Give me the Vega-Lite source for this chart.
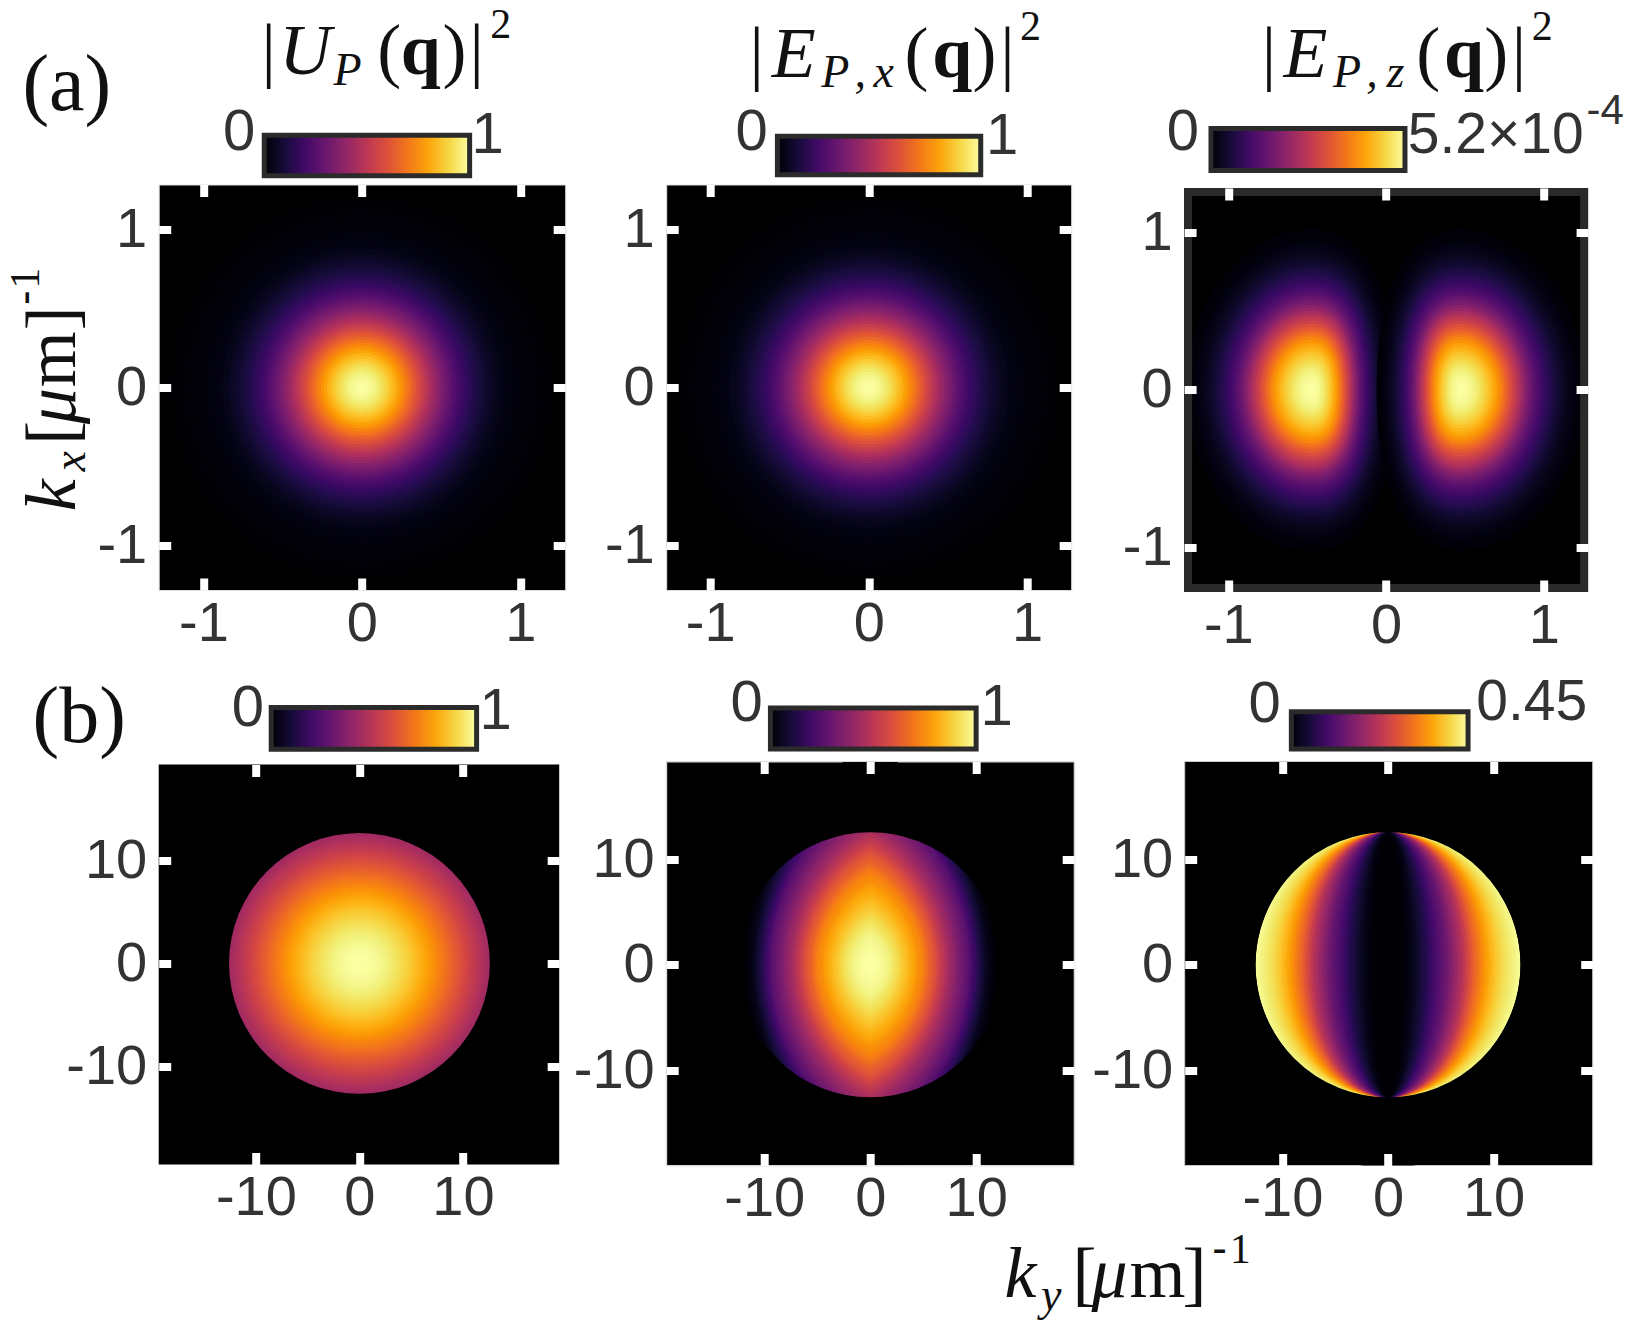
{"$schema":"https://vega.github.io/schema/vega-lite/v6.json","background":"#fff","padding":{"left":2.7,"top":2.5,"right":0,"bottom":0},
"config":{"view":{"fill":"#000","stroke":"#ddd","strokeWidth":1},"axis":{"domain":false,"grid":false,"tickColor":"#fff","tickWidth":8,"tickSize":-12,"labelFont":"Liberation Sans","labelFontSize":56,"labelColor":"#333"},"axisBottom":{"labelPadding":18},"axisLeft":{"labelPadding":24}},
"datasets":{
"gauss":[{"x":0,"y":0,"r":1.2,"v":0.003},{"x":0,"y":0,"r":1.16,"v":0.005},{"x":0,"y":0,"r":1.12,"v":0.007},{"x":0,"y":0,"r":1.08,"v":0.009},{"x":0,"y":0,"r":1.04,"v":0.013},{"x":0,"y":0,"r":1,"v":0.018},{"x":0,"y":0,"r":0.96,"v":0.025},{"x":0,"y":0,"r":0.92,"v":0.034},{"x":0,"y":0,"r":0.88,"v":0.045},{"x":0,"y":0,"r":0.84,"v":0.059},{"x":0,"y":0,"r":0.82,"v":0.068},{"x":0,"y":0,"r":0.8,"v":0.077},{"x":0,"y":0,"r":0.78,"v":0.088},{"x":0,"y":0,"r":0.76,"v":0.099},{"x":0,"y":0,"r":0.74,"v":0.112},{"x":0,"y":0,"r":0.72,"v":0.126},{"x":0,"y":0,"r":0.7,"v":0.141},{"x":0,"y":0,"r":0.68,"v":0.157},{"x":0,"y":0,"r":0.66,"v":0.175},{"x":0,"y":0,"r":0.64,"v":0.194},{"x":0,"y":0,"r":0.62,"v":0.215},{"x":0,"y":0,"r":0.6,"v":0.237},{"x":0,"y":0,"r":0.58,"v":0.26},{"x":0,"y":0,"r":0.56,"v":0.286},{"x":0,"y":0,"r":0.54,"v":0.312},{"x":0,"y":0,"r":0.52,"v":0.339},{"x":0,"y":0,"r":0.5,"v":0.368},{"x":0,"y":0,"r":0.48,"v":0.398},{"x":0,"y":0,"r":0.46,"v":0.429},{"x":0,"y":0,"r":0.44,"v":0.461},{"x":0,"y":0,"r":0.42,"v":0.494},{"x":0,"y":0,"r":0.4,"v":0.527},{"x":0,"y":0,"r":0.38,"v":0.561},{"x":0,"y":0,"r":0.36,"v":0.596},{"x":0,"y":0,"r":0.34,"v":0.63},{"x":0,"y":0,"r":0.32,"v":0.664},{"x":0,"y":0,"r":0.3,"v":0.698},{"x":0,"y":0,"r":0.28,"v":0.731},{"x":0,"y":0,"r":0.26,"v":0.763},{"x":0,"y":0,"r":0.24,"v":0.794},{"x":0,"y":0,"r":0.22,"v":0.824},{"x":0,"y":0,"r":0.2,"v":0.852},{"x":0,"y":0,"r":0.18,"v":0.878},{"x":0,"y":0,"r":0.16,"v":0.903},{"x":0,"y":0,"r":0.14,"v":0.925},{"x":0,"y":0,"r":0.12,"v":0.944},{"x":0,"y":0,"r":0.1,"v":0.961},{"x":0,"y":0,"r":0.08,"v":0.975},{"x":0,"y":0,"r":0.06,"v":0.986},{"x":0,"y":0,"r":0.04,"v":0.994},{"x":0,"y":0,"r":0.02,"v":0.998}],
"lobe":[{"r":1.02,"v":0.006},{"r":1,"v":0.01},{"r":0.98,"v":0.014},{"r":0.96,"v":0.02},{"r":0.94,"v":0.026},{"r":0.92,"v":0.033},{"r":0.9,"v":0.04},{"r":0.88,"v":0.048},{"r":0.86,"v":0.057},{"r":0.84,"v":0.067},{"r":0.82,"v":0.078},{"r":0.8,"v":0.09},{"r":0.78,"v":0.104},{"r":0.76,"v":0.118},{"r":0.74,"v":0.134},{"r":0.72,"v":0.15},{"r":0.7,"v":0.168},{"r":0.68,"v":0.187},{"r":0.66,"v":0.208},{"r":0.64,"v":0.23},{"r":0.62,"v":0.255},{"r":0.6,"v":0.28},{"r":0.58,"v":0.31},{"r":0.56,"v":0.34},{"r":0.54,"v":0.375},{"r":0.52,"v":0.41},{"r":0.5,"v":0.45},{"r":0.48,"v":0.485},{"r":0.46,"v":0.52},{"r":0.44,"v":0.555},{"r":0.42,"v":0.59},{"r":0.4,"v":0.625},{"r":0.38,"v":0.66},{"r":0.36,"v":0.695},{"r":0.34,"v":0.73},{"r":0.32,"v":0.76},{"r":0.3,"v":0.79},{"r":0.28,"v":0.815},{"r":0.26,"v":0.84},{"r":0.24,"v":0.865},{"r":0.22,"v":0.885},{"r":0.2,"v":0.905},{"r":0.18,"v":0.92},{"r":0.16,"v":0.94},{"r":0.14,"v":0.955},{"r":0.12,"v":0.967},{"r":0.1,"v":0.977},{"r":0.08,"v":0.986},{"r":0.06,"v":0.992},{"r":0.04,"v":0.997},{"r":0.02,"v":0.999}],
"disk":[{"x":0,"y":0,"r":12.6,"v":0.433},{"x":0,"y":0,"r":12.4,"v":0.445},{"x":0,"y":0,"r":12.2,"v":0.457},{"x":0,"y":0,"r":12,"v":0.469},{"x":0,"y":0,"r":11.8,"v":0.481},{"x":0,"y":0,"r":11.6,"v":0.493},{"x":0,"y":0,"r":11.4,"v":0.505},{"x":0,"y":0,"r":11.2,"v":0.517},{"x":0,"y":0,"r":11,"v":0.529},{"x":0,"y":0,"r":10.8,"v":0.541},{"x":0,"y":0,"r":10.6,"v":0.554},{"x":0,"y":0,"r":10.4,"v":0.566},{"x":0,"y":0,"r":10.2,"v":0.578},{"x":0,"y":0,"r":10,"v":0.59},{"x":0,"y":0,"r":9.8,"v":0.603},{"x":0,"y":0,"r":9.6,"v":0.615},{"x":0,"y":0,"r":9.4,"v":0.628},{"x":0,"y":0,"r":9.2,"v":0.64},{"x":0,"y":0,"r":9,"v":0.653},{"x":0,"y":0,"r":8.8,"v":0.665},{"x":0,"y":0,"r":8.6,"v":0.678},{"x":0,"y":0,"r":8.4,"v":0.69},{"x":0,"y":0,"r":8.2,"v":0.702},{"x":0,"y":0,"r":8,"v":0.714},{"x":0,"y":0,"r":7.8,"v":0.726},{"x":0,"y":0,"r":7.6,"v":0.738},{"x":0,"y":0,"r":7.4,"v":0.75},{"x":0,"y":0,"r":7.2,"v":0.761},{"x":0,"y":0,"r":7,"v":0.773},{"x":0,"y":0,"r":6.8,"v":0.784},{"x":0,"y":0,"r":6.6,"v":0.795},{"x":0,"y":0,"r":6.4,"v":0.806},{"x":0,"y":0,"r":6.2,"v":0.817},{"x":0,"y":0,"r":6,"v":0.827},{"x":0,"y":0,"r":5.8,"v":0.838},{"x":0,"y":0,"r":5.6,"v":0.848},{"x":0,"y":0,"r":5.4,"v":0.858},{"x":0,"y":0,"r":5.2,"v":0.867},{"x":0,"y":0,"r":5,"v":0.877},{"x":0,"y":0,"r":4.8,"v":0.886},{"x":0,"y":0,"r":4.6,"v":0.895},{"x":0,"y":0,"r":4.4,"v":0.903},{"x":0,"y":0,"r":4.2,"v":0.911},{"x":0,"y":0,"r":4,"v":0.919},{"x":0,"y":0,"r":3.8,"v":0.927},{"x":0,"y":0,"r":3.6,"v":0.934},{"x":0,"y":0,"r":3.4,"v":0.941},{"x":0,"y":0,"r":3.2,"v":0.948},{"x":0,"y":0,"r":3,"v":0.954},{"x":0,"y":0,"r":2.8,"v":0.96},{"x":0,"y":0,"r":2.6,"v":0.965},{"x":0,"y":0,"r":2.4,"v":0.97},{"x":0,"y":0,"r":2.2,"v":0.975},{"x":0,"y":0,"r":2,"v":0.979},{"x":0,"y":0,"r":1.8,"v":0.983},{"x":0,"y":0,"r":1.6,"v":0.987},{"x":0,"y":0,"r":1.4,"v":0.99},{"x":0,"y":0,"r":1.2,"v":0.993},{"x":0,"y":0,"r":1,"v":0.995},{"x":0,"y":0,"r":0.8,"v":0.997},{"x":0,"y":0,"r":0.6,"v":0.998},{"x":0,"y":0,"r":0.4,"v":0.999},{"x":0,"y":0,"r":0.2,"v":1}],
"lens":[{"x":0,"y":0,"r":19.2,"v":0.005},{"x":0,"y":0,"r":18.8,"v":0.017},{"x":0,"y":0,"r":18.4,"v":0.03},{"x":0,"y":0,"r":18,"v":0.045},{"x":0,"y":0,"r":17.7,"v":0.06},{"x":0,"y":0,"r":17.4,"v":0.08},{"x":0,"y":0,"r":17.1,"v":0.1},{"x":0,"y":0,"r":16.8,"v":0.12},{"x":0,"y":0,"r":16.5,"v":0.14},{"x":0,"y":0,"r":16.2,"v":0.17},{"x":0,"y":0,"r":15.8,"v":0.2},{"x":0,"y":0,"r":15.5,"v":0.225},{"x":0,"y":0,"r":15.2,"v":0.25},{"x":0,"y":0,"r":14.9,"v":0.27},{"x":0,"y":0,"r":14.5,"v":0.29},{"x":0,"y":0,"r":14.2,"v":0.31},{"x":0,"y":0,"r":13.9,"v":0.33},{"x":0,"y":0,"r":13.5,"v":0.35},{"x":0,"y":0,"r":13.2,"v":0.37},{"x":0,"y":0,"r":12.9,"v":0.39},{"x":0,"y":0,"r":12.6,"v":0.41},{"x":0,"y":0,"r":12.2,"v":0.43},{"x":0,"y":0,"r":11.9,"v":0.45},{"x":0,"y":0,"r":11.6,"v":0.475},{"x":0,"y":0,"r":11.3,"v":0.5},{"x":0,"y":0,"r":10.9,"v":0.525},{"x":0,"y":0,"r":10.6,"v":0.55},{"x":0,"y":0,"r":10.3,"v":0.575},{"x":0,"y":0,"r":10,"v":0.6},{"x":0,"y":0,"r":9.7,"v":0.62},{"x":0,"y":0,"r":9.4,"v":0.64},{"x":0,"y":0,"r":9,"v":0.665},{"x":0,"y":0,"r":8.7,"v":0.69},{"x":0,"y":0,"r":8.4,"v":0.71},{"x":0,"y":0,"r":8.1,"v":0.73},{"x":0,"y":0,"r":7.8,"v":0.745},{"x":0,"y":0,"r":7.4,"v":0.76},{"x":0,"y":0,"r":7.1,"v":0.78},{"x":0,"y":0,"r":6.8,"v":0.8},{"x":0,"y":0,"r":6.4,"v":0.815},{"x":0,"y":0,"r":6.1,"v":0.83},{"x":0,"y":0,"r":5.8,"v":0.845},{"x":0,"y":0,"r":5.5,"v":0.86},{"x":0,"y":0,"r":5.1,"v":0.875},{"x":0,"y":0,"r":4.8,"v":0.89},{"x":0,"y":0,"r":4.5,"v":0.905},{"x":0,"y":0,"r":4.2,"v":0.92},{"x":0,"y":0,"r":3.8,"v":0.933},{"x":0,"y":0,"r":3.5,"v":0.945},{"x":0,"y":0,"r":3.2,"v":0.955},{"x":0,"y":0,"r":2.9,"v":0.965},{"x":0,"y":0,"r":2.6,"v":0.973},{"x":0,"y":0,"r":2.3,"v":0.98},{"x":0,"y":0,"r":1.9,"v":0.985},{"x":0,"y":0,"r":1.6,"v":0.99},{"x":0,"y":0,"r":1.3,"v":0.994},{"x":0,"y":0,"r":1,"v":0.997},{"x":0,"y":0,"r":0.6,"v":0.999}],
"stripes":[{"x":0,"y":0,"k":"A","v":0.985},{"x":0,"y":0,"k":"B","v":0.972},{"x":0,"y":0,"k":"C","v":0.96},{"x":0,"y":0,"k":"D","v":0.945},{"x":0,"y":0,"k":"E","v":0.93},{"x":0,"y":0,"k":"F","v":0.915},{"x":0,"y":0,"k":"G","v":0.9},{"x":0,"y":0,"k":"H","v":0.885},{"x":0,"y":0,"k":"I","v":0.87},{"x":0,"y":0,"k":"J","v":0.855},{"x":0,"y":0,"k":"K","v":0.84},{"x":0,"y":0,"k":"L","v":0.82},{"x":0,"y":0,"k":"M","v":0.8},{"x":0,"y":0,"k":"N","v":0.78},{"x":0,"y":0,"k":"O","v":0.76},{"x":0,"y":0,"k":"P","v":0.735},{"x":0,"y":0,"k":"Q","v":0.71},{"x":0,"y":0,"k":"R","v":0.68},{"x":0,"y":0,"k":"S","v":0.65},{"x":0,"y":0,"k":"T","v":0.615},{"x":0,"y":0,"k":"U","v":0.58},{"x":0,"y":0,"k":"V","v":0.54},{"x":0,"y":0,"k":"W","v":0.5},{"x":0,"y":0,"k":"X","v":0.47},{"x":0,"y":0,"k":"Y","v":0.44},{"x":0,"y":0,"k":"Z","v":0.41},{"x":0,"y":0,"k":"a","v":0.38},{"x":0,"y":0,"k":"b","v":0.35},{"x":0,"y":0,"k":"c","v":0.32},{"x":0,"y":0,"k":"d","v":0.295},{"x":0,"y":0,"k":"e","v":0.27},{"x":0,"y":0,"k":"f","v":0.245},{"x":0,"y":0,"k":"g","v":0.22},{"x":0,"y":0,"k":"h","v":0.195},{"x":0,"y":0,"k":"i","v":0.17},{"x":0,"y":0,"k":"j","v":0.145},{"x":0,"y":0,"k":"k","v":0.12},{"x":0,"y":0,"k":"l","v":0.1},{"x":0,"y":0,"k":"m","v":0.08},{"x":0,"y":0,"k":"n","v":0.06},{"x":0,"y":0,"k":"o","v":0.04},{"x":0,"y":0,"k":"p","v":0.027},{"x":0,"y":0,"k":"q","v":0.015},{"x":0,"y":0,"k":"r","v":0.008},{"x":0,"y":0,"k":"s","v":0.003}],
"origin":[{"x":0,"y":0}]},
"bounds":"flush","columns":3,"spacing":{"row":169,"column":100.5},"resolve":{"scale":{"size":"independent","shape":"independent","color":"independent"}},
"concat":[
{"width":406.5,"height":405.5,"resolve":{"axis":{"x":"independent","y":"independent"}},
"encoding":{"x":{"field":"x","type":"quantitative","axis":null,"scale":{"domain":[-1.282,1.283],"nice":false}},"y":{"field":"y","type":"quantitative","axis":null,"scale":{"domain":[-1.278,1.281],"nice":false}}},
"layer":[
{"data":{"name":"gauss"},"mark":{"type":"point","filled":true,"opacity":1,"shape":"circle"},"encoding":{"x":{"field":"x","type":"quantitative","scale":{"domain":[-1.282,1.283],"nice":false},"axis":{"orient":"bottom","zindex":1,"values":[-1,0,1],"title":null,"labelExpr":"''+datum.value"}},"y":{"field":"y","type":"quantitative","scale":{"domain":[-1.278,1.281],"nice":false},"axis":{"orient":"left","zindex":1,"values":[-1,0,1],"title":null,"labelExpr":"''+datum.value"}},"size":{"field":"r","type":"quantitative","legend":null,"scale":{"type":"pow","exponent":2,"domain":[0,1.282],"range":[0,165242]}},"color":{"field":"v","type":"quantitative","legend":null,"scale":{"scheme":"inferno","domain":[0,1]}}}},
{"data":{"name":"origin"},"mark":{"type":"point","opacity":0},"encoding":{"x":{"field":"x","type":"quantitative","scale":{"domain":[-1.282,1.283],"nice":false},"axis":{"orient":"top","zindex":1,"values":[-1,0,1],"title":null,"labels":false}},"y":{"field":"y","type":"quantitative","scale":{"domain":[-1.278,1.281],"nice":false},"axis":{"orient":"right","zindex":1,"values":[-1,0,1],"title":null,"labels":false}}}},
{"data":{"values":[{"x":-0.616,"x2":0.68,"y":1.592,"y2":1.336},{"x":2.622,"x2":3.905,"y":1.586,"y2":1.343},{"x":5.358,"x2":6.582,"y":1.635,"y2":1.37},{"x":-0.572,"x2":0.724,"y":-2.02,"y2":-2.283},{"x":2.578,"x2":3.876,"y":-2.023,"y2":-2.282},{"x":5.865,"x2":6.98,"y":-2.047,"y2":-2.282}]},"mark":{"type":"rect","stroke":"#2b2b2b","strokeWidth":5,"fill":{"gradient":"linear","x1":0,"y1":0,"x2":1,"y2":0,"stops":[{"offset":0,"color":"#000004"},{"offset":0.1,"color":"#160b39"},{"offset":0.2,"color":"#420a68"},{"offset":0.3,"color":"#6a176e"},{"offset":0.4,"color":"#932667"},{"offset":0.5,"color":"#bc3754"},{"offset":0.6,"color":"#dd513a"},{"offset":0.7,"color":"#f37819"},{"offset":0.8,"color":"#fca50a"},{"offset":0.9,"color":"#f6d746"},{"offset":1,"color":"#fcffa4"}]}},"encoding":{"x2":{"field":"x2"},"y2":{"field":"y2"}}},
{"data":{"values":[{"x":-0.774,"y":1.604,"t":"0"},{"x":0.794,"y":1.587,"t":"1"},{"x":2.459,"y":1.609,"t":"0"},{"x":4.04,"y":1.582,"t":"1"},{"x":5.181,"y":1.607,"t":"0"},{"x":-0.72,"y":-2.03,"t":"0"},{"x":0.844,"y":-2.049,"t":"1"},{"x":2.428,"y":-1.998,"t":"0"},{"x":4.005,"y":-2.025,"t":"1"},{"x":5.696,"y":-2.004,"t":"0"}]},"mark":{"type":"text","font":"Liberation Sans","fontSize":58,"color":"#333","align":"center","baseline":"middle"},"encoding":{"text":{"field":"t"}}},
{"data":{"values":[{"x":6.6,"y":1.59,"t":"5.2×10"},{"x":7.032,"y":-1.99,"t":"0.45"}]},"mark":{"type":"text","font":"Liberation Sans","fontSize":57,"color":"#333","align":"left","baseline":"middle"},"encoding":{"text":{"field":"t"}}},
{"data":{"values":[{"x":7.728,"y":1.743,"t":"-4"}]},"mark":{"type":"text","font":"Liberation Sans","fontSize":42,"color":"#333","align":"left","baseline":"middle"},"encoding":{"text":{"field":"t"}}},
{"data":{"values":[{"x":-0.588,"y":1.977,"t":"|"},{"x":0.172,"y":1.977,"t":"("},{"x":0.584,"y":1.977,"t":")"},{"x":0.724,"y":1.977,"t":"|"},{"x":2.492,"y":1.961,"t":"|"},{"x":3.499,"y":1.961,"t":"("},{"x":3.929,"y":1.961,"t":")"},{"x":4.073,"y":1.961,"t":"|"},{"x":5.723,"y":1.961,"t":"|"},{"x":6.729,"y":1.961,"t":"("},{"x":7.158,"y":1.961,"t":")"},{"x":7.302,"y":1.961,"t":"|"},{"x":4.56,"y":-5.738,"t":"["},{"x":5.021,"y":-5.738,"t":"m"},{"x":5.254,"y":-5.738,"t":"]"}]},"mark":{"type":"text","font":"Liberation Serif","fontSize":72,"color":"#111","align":"center","baseline":"alphabetic"},"encoding":{"text":{"field":"t"}}},
{"data":{"values":[{"x":-1.862,"y":1.749,"t":"(a)"},{"x":-1.784,"y":-2.236,"t":"(b)"}]},"mark":{"type":"text","font":"Liberation Serif","fontSize":80,"color":"#111","align":"center","baseline":"alphabetic"},"encoding":{"text":{"field":"t"}}},
{"data":{"values":[{"x":-0.358,"y":1.977,"t":"U"},{"x":2.725,"y":1.961,"t":"E"},{"x":5.955,"y":1.961,"t":"E"},{"x":4.155,"y":-5.738,"t":"k"},{"x":4.718,"y":-5.738,"t":"μ"}]},"mark":{"type":"text","font":"Liberation Serif","fontStyle":"italic","fontSize":72,"color":"#111","align":"center","baseline":"alphabetic"},"encoding":{"text":{"field":"t"}}},
{"data":{"values":[{"x":-0.09,"y":1.91,"t":"P"},{"x":2.988,"y":1.896,"t":"P"},{"x":3.145,"y":1.896,"t":","},{"x":3.293,"y":1.896,"t":"x"},{"x":6.217,"y":1.896,"t":"P"},{"x":6.374,"y":1.896,"t":","},{"x":6.522,"y":1.896,"t":"z"},{"x":4.35,"y":-5.821,"t":"y"}]},"mark":{"type":"text","font":"Liberation Serif","fontStyle":"italic","fontSize":46,"color":"#111","align":"center","baseline":"alphabetic"},"encoding":{"text":{"field":"t"}}},
{"data":{"values":[{"x":0.371,"y":1.977,"t":"q"},{"x":3.725,"y":1.961,"t":"q"},{"x":6.954,"y":1.961,"t":"q"}]},"mark":{"type":"text","font":"Liberation Serif","fontWeight":"bold","fontSize":72,"color":"#111","align":"center","baseline":"alphabetic"},"encoding":{"text":{"field":"t"}}},
{"data":{"values":[{"x":0.876,"y":2.206,"t":"2"},{"x":4.219,"y":2.193,"t":"2"},{"x":7.449,"y":2.193,"t":"2"},{"x":5.543,"y":-5.525,"t":"1"}]},"mark":{"type":"text","font":"Liberation Serif","fontSize":42,"color":"#111","align":"center","baseline":"alphabetic"},"encoding":{"text":{"field":"t"}}},
{"data":{"values":[{"x":5.412,"y":-5.525,"t":"-"}]},"mark":{"type":"text","font":"Liberation Sans","fontSize":44,"color":"#111","align":"center","baseline":"alphabetic"},"encoding":{"text":{"field":"t"}}},
{"data":{"values":[{"x":-1.812,"y":-0.68,"t":"k"},{"x":-1.812,"y":-0.118,"t":"μ"}]},"mark":{"type":"text","angle":270,"font":"Liberation Serif","fontStyle":"italic","fontSize":72,"color":"#111","align":"center","baseline":"alphabetic"},"encoding":{"text":{"field":"t"}}},
{"data":{"values":[{"x":-1.749,"y":-0.465,"t":"x"}]},"mark":{"type":"text","angle":270,"font":"Liberation Serif","fontStyle":"italic","fontSize":46,"color":"#111","align":"center","baseline":"alphabetic"},"encoding":{"text":{"field":"t"}}},
{"data":{"values":[{"x":-1.812,"y":-0.286,"t":"["},{"x":-1.812,"y":0.179,"t":"m"},{"x":-1.812,"y":0.437,"t":"]"}]},"mark":{"type":"text","angle":270,"font":"Liberation Serif","fontSize":72,"color":"#111","align":"center","baseline":"alphabetic"},"encoding":{"text":{"field":"t"}}},
{"data":{"values":[{"x":-2.04,"y":0.69,"t":"1"}]},"mark":{"type":"text","angle":270,"font":"Liberation Serif","fontSize":42,"color":"#111","align":"center","baseline":"alphabetic"},"encoding":{"text":{"field":"t"}}},
{"data":{"values":[{"x":-2.04,"y":0.567,"t":"-"}]},"mark":{"type":"text","angle":270,"font":"Liberation Sans","fontSize":44,"color":"#111","align":"center","baseline":"alphabetic"},"encoding":{"text":{"field":"t"}}}
]},
{"width":405,"height":405.5,"data":{"name":"gauss"},"resolve":{"axis":{"x":"independent","y":"independent"}},
"layer":[
{"mark":{"type":"point","filled":true,"opacity":1,"shape":"circle"},"encoding":{"x":{"field":"x","type":"quantitative","scale":{"domain":[-1.278,1.278],"nice":false},"axis":{"orient":"bottom","zindex":1,"values":[-1,0,1],"title":null,"labelExpr":"''+datum.value"}},"y":{"field":"y","type":"quantitative","scale":{"domain":[-1.278,1.281],"nice":false},"axis":{"orient":"left","zindex":1,"values":[-1,0,1],"title":null,"labelExpr":"''+datum.value"}},"size":{"field":"r","type":"quantitative","legend":null,"scale":{"type":"pow","exponent":2,"domain":[0,1.278],"range":[0,164025]}},"color":{"field":"v","type":"quantitative","legend":null,"scale":{"scheme":"inferno","domain":[0,1]}}}},
{"data":{"name":"origin"},"mark":{"type":"point","opacity":0},"encoding":{"x":{"field":"x","type":"quantitative","scale":{"domain":[-1.278,1.278],"nice":false},"axis":{"orient":"top","zindex":1,"values":[-1,0,1],"title":null,"labels":false}},"y":{"field":"y","type":"quantitative","scale":{"domain":[-1.278,1.281],"nice":false},"axis":{"orient":"right","zindex":1,"values":[-1,0,1],"title":null,"labels":false}}}}
]},
{"width":413.4,"height":407.5,"view":{"fill":null,"stroke":null},"resolve":{"axis":{"x":"independent","y":"independent"}},
"layer":[
{"data":{"values":[{"x":-1.28,"x2":1.28,"y":-1.28,"y2":1.28}]},"mark":{"type":"rect","fill":"#000"},"encoding":{"x":{"field":"x","type":"quantitative","scale":{"domain":[-1.3396,1.28],"nice":false},"axis":null},"y":{"field":"y","type":"quantitative","scale":{"domain":[-1.28,1.302],"nice":false},"axis":null},"x2":{"field":"x2"},"y2":{"field":"y2"}}},
{"data":{"name":"lobe"},"mark":{"type":"point","filled":true,"opacity":1,"shape":"M0,-1C-.43,-1 -.78,-.55 -.78,0C-.78,.55 -.43,1 0,1C.36,1 .52,.6 .52,0C.52,-.6 .36,-1 0,-1Z"},"encoding":{"x":{"datum":-0.47,"type":"quantitative","scale":{"domain":[-1.3396,1.28],"nice":false},"axis":{"orient":"bottom","zindex":1,"values":[-1,0,1],"title":null,"labelExpr":"''+datum.value"}},"y":{"datum":0,"type":"quantitative","scale":{"domain":[-1.28,1.302],"nice":false},"axis":{"orient":"left","offset":-9.4,"zindex":1,"values":[-1,0,1],"title":null,"labelExpr":"''+datum.value"}},"size":{"field":"r","type":"quantitative","legend":null,"scale":{"type":"pow","exponent":2,"domain":[0,1.28],"range":[0,163216]}},"color":{"field":"v","type":"quantitative","legend":null,"scale":{"scheme":"inferno","domain":[0,1]}}}},
{"data":{"name":"lobe"},"mark":{"type":"point","filled":true,"opacity":1,"shape":"M0,-1C.43,-1 .78,-.55 .78,0C.78,.55 .43,1 0,1C-.36,1 -.52,.6 -.52,0C-.52,-.6 -.36,-1 0,-1Z"},"encoding":{"x":{"datum":0.47,"type":"quantitative","scale":{"domain":[-1.3396,1.28],"nice":false},"axis":null},"y":{"datum":0,"type":"quantitative","scale":{"domain":[-1.28,1.302],"nice":false},"axis":null},"size":{"field":"r","type":"quantitative","legend":null,"scale":{"type":"pow","exponent":2,"domain":[0,1.28],"range":[0,163216]}},"color":{"field":"v","type":"quantitative","legend":null,"scale":{"scheme":"inferno","domain":[0,1]}}}},
{"data":{"values":[{"x":-1.2547,"x2":1.2547,"y":-1.2547,"y2":1.2547}]},"mark":{"type":"rect","fill":"transparent","stroke":"#2a2a2a","strokeWidth":8},"encoding":{"x":{"field":"x","type":"quantitative","scale":{"domain":[-1.3396,1.28],"nice":false},"axis":null},"y":{"field":"y","type":"quantitative","scale":{"domain":[-1.28,1.302],"nice":false},"axis":null},"x2":{"field":"x2"},"y2":{"field":"y2"}}},
{"data":{"name":"origin"},"mark":{"type":"point","opacity":0},"encoding":{"x":{"field":"x","type":"quantitative","scale":{"domain":[-1.3396,1.28],"nice":false},"axis":{"orient":"top","zindex":1,"offset":-3.5,"values":[-1,0,1],"title":null,"labels":false}},"y":{"field":"y","type":"quantitative","scale":{"domain":[-1.28,1.302],"nice":false},"axis":{"orient":"right","zindex":1,"values":[-1,0,1],"title":null,"labels":false}}}}
]},
{"width":400.5,"height":403,"view":{"fill":null,"stroke":null},"resolve":{"axis":{"x":"independent","y":"independent"}},
"layer":[
{"data":{"values":[{"x":-19.39,"x2":19.3,"y":-19.52,"y2":19.31}]},"mark":{"type":"rect","fill":"#000"},"encoding":{"x":{"field":"x","type":"quantitative","scale":{"domain":[-19.39,19.3],"nice":false},"axis":null},"y":{"field":"y","type":"quantitative","scale":{"domain":[-19.52,19.6],"nice":false},"axis":null},"x2":{"field":"x2"},"y2":{"field":"y2"}}},
{"data":{"name":"disk"},"mark":{"type":"point","filled":true,"opacity":1,"shape":"circle"},"encoding":{"x":{"field":"x","type":"quantitative","scale":{"domain":[-19.39,19.3],"nice":false},"axis":{"orient":"bottom","zindex":1,"values":[-10,0,10],"title":null,"labelExpr":"''+datum.value"}},"y":{"field":"y","type":"quantitative","scale":{"domain":[-19.52,19.6],"nice":false},"axis":{"orient":"left","zindex":1,"values":[-10,0,10],"title":null,"labelExpr":"''+datum.value"}},"size":{"field":"r","type":"quantitative","legend":null,"scale":{"type":"pow","exponent":2,"domain":[0,19.35],"range":[0,160400]}},"color":{"field":"v","type":"quantitative","legend":null,"scale":{"scheme":"inferno","domain":[0,1]}}}},
{"data":{"name":"origin"},"mark":{"type":"point","opacity":0},"encoding":{"x":{"field":"x","type":"quantitative","scale":{"domain":[-19.39,19.3],"nice":false},"axis":{"orient":"top","zindex":1,"offset":-3,"values":[-10,0,10],"title":null,"labels":false}},"y":{"field":"y","type":"quantitative","scale":{"domain":[-19.52,19.6],"nice":false},"axis":{"orient":"right","zindex":1,"values":[-10,0,10],"title":null,"labels":false}}}}
]},
{"width":408,"height":404,"resolve":{"axis":{"x":"independent","y":"independent"}},
"layer":[
{"data":{"name":"lens"},"mark":{"type":"point","filled":true,"opacity":1,"clip":true,"shape":"M0,-1C.2,-.93 .58,-.55 .58,0C.58,.55 .2,.93 0,1C-.2,.93 -.58,.55 -.58,0C-.58,-.55 -.2,-.93 0,-1Z"},"encoding":{"x":{"field":"x","type":"quantitative","scale":{"domain":[-19.25,19.25],"nice":false},"axis":{"orient":"bottom","zindex":1,"values":[-10,0,10],"title":null,"labelExpr":"''+datum.value"}},"y":{"field":"y","type":"quantitative","scale":{"domain":[-18.97,19.22],"nice":false},"axis":{"orient":"left","zindex":1,"values":[-10,0,10],"title":null,"labelExpr":"''+datum.value"}},"size":{"field":"r","type":"quantitative","legend":null,"scale":{"type":"pow","exponent":2,"domain":[0,19.25],"range":[0,190600]}},"color":{"field":"v","type":"quantitative","legend":null,"scale":{"scheme":"inferno","domain":[0,1]}}}},
{"data":{"name":"origin"},"mark":{"type":"point","filled":false,"opacity":1,"clip":true,"shape":"circle","size":112225,"stroke":"#000","strokeWidth":70},"encoding":{"x":{"field":"x","type":"quantitative","scale":{"domain":[-19.25,19.25],"nice":false},"axis":{"orient":"top","zindex":1,"values":[-10,0,10],"title":null,"labels":false}},"y":{"field":"y","type":"quantitative","scale":{"domain":[-18.97,19.22],"nice":false},"axis":{"orient":"right","zindex":1,"values":[-10,0,10],"title":null,"labels":false}}}},
{"data":{"values":[{"x":-19.25,"x2":19.25,"y":-18.97,"y2":19.22}]},"mark":{"type":"rect","fill":"transparent","stroke":"#ddd","strokeWidth":1},"encoding":{"x":{"field":"x","type":"quantitative","scale":{"domain":[-19.25,19.25],"nice":false},"axis":null},"y":{"field":"y","type":"quantitative","scale":{"domain":[-18.97,19.22],"nice":false},"axis":null},"x2":{"field":"x2"},"y2":{"field":"y2"}}}
]},
{"width":418,"height":404,"view":{"fill":null,"stroke":null},"resolve":{"axis":{"x":"independent","y":"independent"}},
"layer":[
{"data":{"values":[{"x":-19.25,"x2":19.38,"y":-18.97,"y2":19.22}]},"mark":{"type":"rect","fill":"#000","stroke":"#ccc","strokeWidth":1},"encoding":{"x":{"field":"x","type":"quantitative","scale":{"domain":[-20.197,19.38],"nice":false},"axis":null},"y":{"field":"y","type":"quantitative","scale":{"domain":[-18.97,19.22],"nice":false},"axis":null},"x2":{"field":"x2"},"y2":{"field":"y2"}}},
{"data":{"name":"stripes"},"mark":{"type":"point","filled":true,"opacity":1,"size":70225},"encoding":{"x":{"field":"x","type":"quantitative","scale":{"domain":[-20.197,19.38],"nice":false},"axis":{"orient":"bottom","zindex":1,"values":[-10,0,10],"title":null,"labelExpr":"''+datum.value"}},"y":{"field":"y","type":"quantitative","scale":{"domain":[-18.97,19.22],"nice":false},"axis":{"orient":"left","offset":-10,"zindex":1,"values":[-10,0,10],"title":null,"labelExpr":"''+datum.value"}},"shape":{"field":"k","type":"nominal","legend":null,"scale":{"domain":["A","B","C","D","E","F","G","H","I","J","K","L","M","N","O","P","Q","R","S","T","U","V","W","X","Y","Z","a","b","c","d","e","f","g","h","i","j","k","l","m","n","o","p","q","r","s"],"range":["M0,-1C.55,-1 1,-.55 1,0C1,.55 .55,1 0,1C-.55,1 -1,.55 -1,0C-1,-.55 -.55,-1 0,-1Z","M0,-1C.537,-1 .977,-.62 .977,0C.977,.62 .537,1 0,1C-.537,1 -.977,.62 -.977,0C-.977,-.62 -.537,-1 0,-1Z","M0,-1C.525,-1 .955,-.62 .955,0C.955,.62 .525,1 0,1C-.525,1 -.955,.62 -.955,0C-.955,-.62 -.525,-1 0,-1Z","M0,-1C.512,-1 .931,-.62 .931,0C.931,.62 .512,1 0,1C-.512,1 -.931,.62 -.931,0C-.931,-.62 -.512,-1 0,-1Z","M0,-1C.499,-1 .907,-.62 .907,0C.907,.62 .499,1 0,1C-.499,1 -.907,.62 -.907,0C-.907,-.62 -.499,-1 0,-1Z","M0,-1C.486,-1 .883,-.62 .883,0C.883,.62 .486,1 0,1C-.486,1 -.883,.62 -.883,0C-.883,-.62 -.486,-1 0,-1Z","M0,-1C.472,-1 .859,-.62 .859,0C.859,.62 .472,1 0,1C-.472,1 -.859,.62 -.859,0C-.859,-.62 -.472,-1 0,-1Z","M0,-1C.464,-1 .843,-.62 .843,0C.843,.62 .464,1 0,1C-.464,1 -.843,.62 -.843,0C-.843,-.62 -.464,-1 0,-1Z","M0,-1C.455,-1 .827,-.62 .827,0C.827,.62 .455,1 0,1C-.455,1 -.827,.62 -.827,0C-.827,-.62 -.455,-1 0,-1Z","M0,-1C.446,-1 .811,-.62 .811,0C.811,.62 .446,1 0,1C-.446,1 -.811,.62 -.811,0C-.811,-.62 -.446,-1 0,-1Z","M0,-1C.438,-1 .796,-.62 .796,0C.796,.62 .438,1 0,1C-.438,1 -.796,.62 -.796,0C-.796,-.62 -.438,-1 0,-1Z","M0,-1C.429,-1 .78,-.62 .78,0C.78,.62 .429,1 0,1C-.429,1 -.78,.62 -.78,0C-.78,-.62 -.429,-1 0,-1Z","M0,-1C.42,-1 .764,-.62 .764,0C.764,.62 .42,1 0,1C-.42,1 -.764,.62 -.764,0C-.764,-.62 -.42,-1 0,-1Z","M0,-1C.411,-1 .748,-.62 .748,0C.748,.62 .411,1 0,1C-.411,1 -.748,.62 -.748,0C-.748,-.62 -.411,-1 0,-1Z","M0,-1C.403,-1 .732,-.62 .732,0C.732,.62 .403,1 0,1C-.403,1 -.732,.62 -.732,0C-.732,-.62 -.403,-1 0,-1Z","M0,-1C.394,-1 .716,-.62 .716,0C.716,.62 .394,1 0,1C-.394,1 -.716,.62 -.716,0C-.716,-.62 -.394,-1 0,-1Z","M0,-1C.385,-1 .7,-.62 .7,0C.7,.62 .385,1 0,1C-.385,1 -.7,.62 -.7,0C-.7,-.62 -.385,-1 0,-1Z","M0,-1C.374,-1 .68,-.62 .68,0C.68,.62 .374,1 0,1C-.374,1 -.68,.62 -.68,0C-.68,-.62 -.374,-1 0,-1Z","M0,-1C.363,-1 .66,-.62 .66,0C.66,.62 .363,1 0,1C-.363,1 -.66,.62 -.66,0C-.66,-.62 -.363,-1 0,-1Z","M0,-1C.352,-1 .64,-.62 .64,0C.64,.62 .352,1 0,1C-.352,1 -.64,.62 -.64,0C-.64,-.62 -.352,-1 0,-1Z","M0,-1C.341,-1 .62,-.62 .62,0C.62,.62 .341,1 0,1C-.341,1 -.62,.62 -.62,0C-.62,-.62 -.341,-1 0,-1Z","M0,-1C.33,-1 .6,-.62 .6,0C.6,.62 .33,1 0,1C-.33,1 -.6,.62 -.6,0C-.6,-.62 -.33,-1 0,-1Z","M0,-1C.32,-1 .581,-.62 .581,0C.581,.62 .32,1 0,1C-.32,1 -.581,.62 -.581,0C-.581,-.62 -.32,-1 0,-1Z","M0,-1C.309,-1 .561,-.62 .561,0C.561,.62 .309,1 0,1C-.309,1 -.561,.62 -.561,0C-.561,-.62 -.309,-1 0,-1Z","M0,-1C.298,-1 .541,-.62 .541,0C.541,.62 .298,1 0,1C-.298,1 -.541,.62 -.541,0C-.541,-.62 -.298,-1 0,-1Z","M0,-1C.287,-1 .521,-.62 .521,0C.521,.62 .287,1 0,1C-.287,1 -.521,.62 -.521,0C-.521,-.62 -.287,-1 0,-1Z","M0,-1C.276,-1 .501,-.62 .501,0C.501,.62 .276,1 0,1C-.276,1 -.501,.62 -.501,0C-.501,-.62 -.276,-1 0,-1Z","M0,-1C.265,-1 .481,-.62 .481,0C.481,.62 .265,1 0,1C-.265,1 -.481,.62 -.481,0C-.481,-.62 -.265,-1 0,-1Z","M0,-1C.254,-1 .461,-.62 .461,0C.461,.62 .254,1 0,1C-.254,1 -.461,.62 -.461,0C-.461,-.62 -.254,-1 0,-1Z","M0,-1C.243,-1 .441,-.62 .441,0C.441,.62 .243,1 0,1C-.243,1 -.441,.62 -.441,0C-.441,-.62 -.243,-1 0,-1Z","M0,-1C.232,-1 .422,-.62 .422,0C.422,.62 .232,1 0,1C-.232,1 -.422,.62 -.422,0C-.422,-.62 -.232,-1 0,-1Z","M0,-1C.219,-1 .398,-.62 .398,0C.398,.62 .219,1 0,1C-.219,1 -.398,.62 -.398,0C-.398,-.62 -.219,-1 0,-1Z","M0,-1C.206,-1 .374,-.62 .374,0C.374,.62 .206,1 0,1C-.206,1 -.374,.62 -.374,0C-.374,-.62 -.206,-1 0,-1Z","M0,-1C.195,-1 .354,-.62 .354,0C.354,.62 .195,1 0,1C-.195,1 -.354,.62 -.354,0C-.354,-.62 -.195,-1 0,-1Z","M0,-1C.184,-1 .334,-.62 .334,0C.334,.62 .184,1 0,1C-.184,1 -.334,.62 -.334,0C-.334,-.62 -.184,-1 0,-1Z","M0,-1C.171,-1 .31,-.62 .31,0C.31,.62 .171,1 0,1C-.171,1 -.31,.62 -.31,0C-.31,-.62 -.171,-1 0,-1Z","M0,-1C.157,-1 .286,-.62 .286,0C.286,.62 .157,1 0,1C-.157,1 -.286,.62 -.286,0C-.286,-.62 -.157,-1 0,-1Z","M0,-1C.144,-1 .262,-.62 .262,0C.262,.62 .144,1 0,1C-.144,1 -.262,.62 -.262,0C-.262,-.62 -.144,-1 0,-1Z","M0,-1C.131,-1 .239,-.62 .239,0C.239,.62 .131,1 0,1C-.131,1 -.239,.62 -.239,0C-.239,-.62 -.131,-1 0,-1Z","M0,-1C.118,-1 .215,-.62 .215,0C.215,.62 .118,1 0,1C-.118,1 -.215,.62 -.215,0C-.215,-.62 -.118,-1 0,-1Z","M0,-1C.105,-1 .191,-.62 .191,0C.191,.62 .105,1 0,1C-.105,1 -.191,.62 -.191,0C-.191,-.62 -.105,-1 0,-1Z","M0,-1C.092,-1 .167,-.62 .167,0C.167,.62 .092,1 0,1C-.092,1 -.167,.62 -.167,0C-.167,-.62 -.092,-1 0,-1Z","M0,-1C.079,-1 .143,-.62 .143,0C.143,.62 .079,1 0,1C-.079,1 -.143,.62 -.143,0C-.143,-.62 -.079,-1 0,-1Z","M0,-1C.065,-1 .119,-.62 .119,0C.119,.62 .065,1 0,1C-.065,1 -.119,.62 -.119,0C-.119,-.62 -.065,-1 0,-1Z","M0,-1C.052,-1 .095,-.62 .095,0C.095,.62 .052,1 0,1C-.052,1 -.095,.62 -.095,0C-.095,-.62 -.052,-1 0,-1Z"]}},"color":{"field":"v","type":"quantitative","legend":null,"scale":{"scheme":"inferno","domain":[0,1]}}}},
{"data":{"name":"origin"},"mark":{"type":"point","filled":false,"opacity":1,"clip":true,"shape":"circle","size":112225,"stroke":"#000","strokeWidth":70},"encoding":{"x":{"field":"x","type":"quantitative","scale":{"domain":[-20.197,19.38],"nice":false},"axis":{"orient":"top","zindex":1,"values":[-10,0,10],"title":null,"labels":false}},"y":{"field":"y","type":"quantitative","scale":{"domain":[-18.97,19.22],"nice":false},"axis":{"orient":"right","zindex":1,"values":[-10,0,10],"title":null,"labels":false}}}}
]}
]}
